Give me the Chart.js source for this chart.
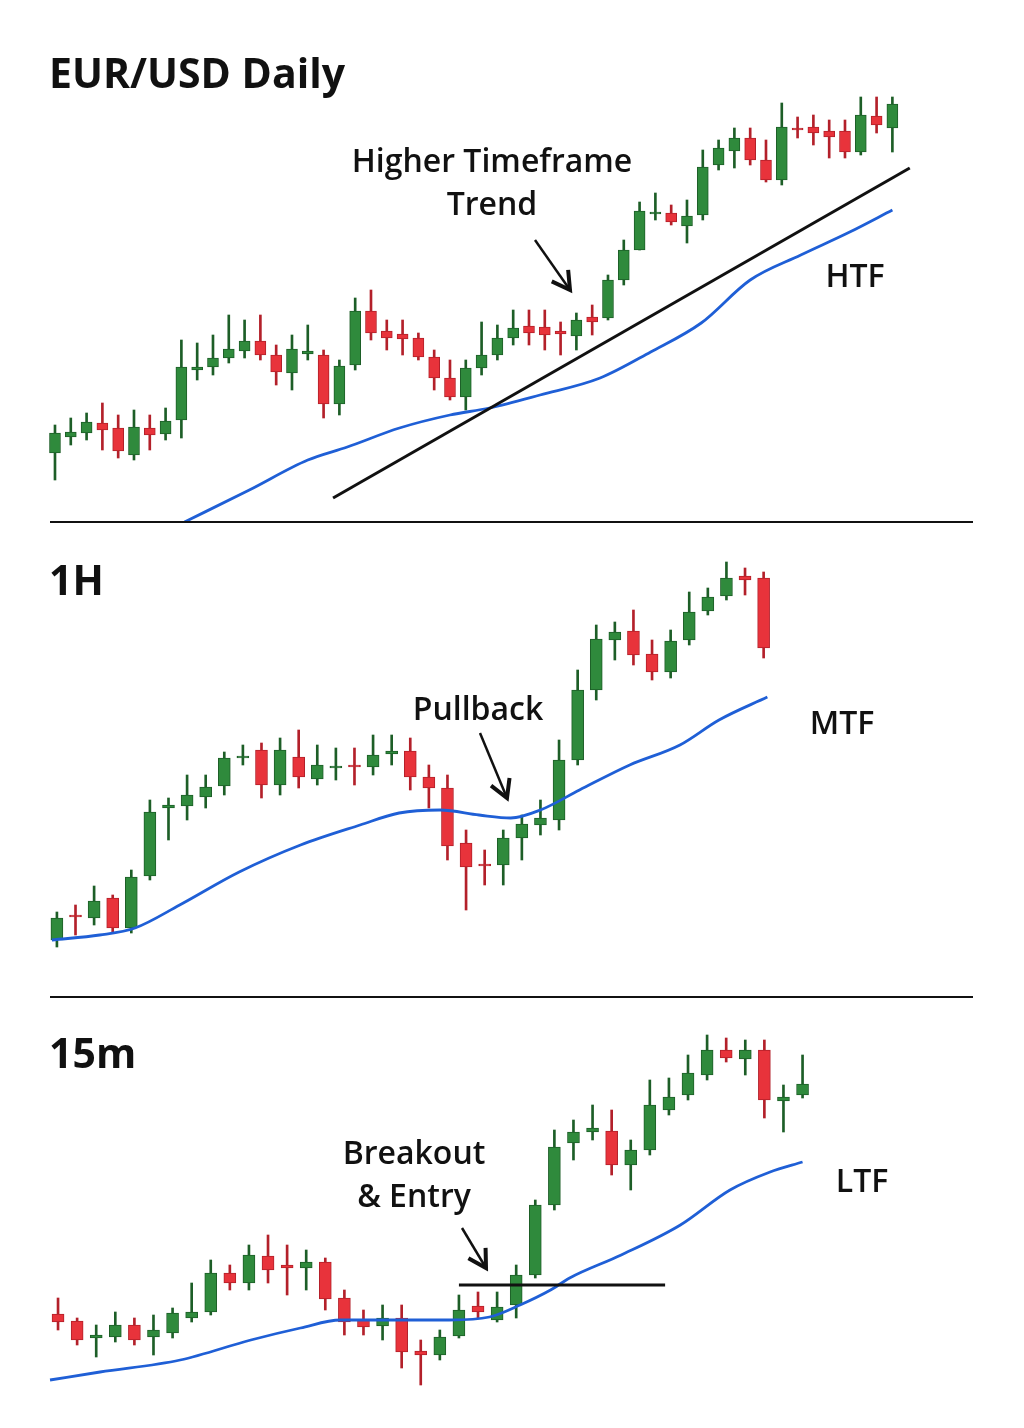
<!DOCTYPE html>
<html><head><meta charset="utf-8">
<script src="https://cdn.jsdelivr.net/npm/chart.js@4"></script>
<style>
body{margin:0;background:#fff;width:1024px;height:1428px;position:relative;overflow:hidden;font-family:"Open Sans",Roboto,sans-serif;}
canvas{position:absolute;left:0;}
.t{position:absolute;font-weight:700;color:#111;white-space:nowrap;}
.h{font-size:41px;left:49px;}
.a{font-size:32px;font-weight:600;transform:translateX(-50%);text-align:center;line-height:43px;}
.sep{position:absolute;left:50px;width:923px;height:2px;background:#111;}
svg{position:absolute;left:0;top:0;}
</style></head><body>
<canvas id="c1" width="1024" height="432" style="top:90px"></canvas>
<canvas id="c2" width="1024" height="420" style="top:540px"></canvas>
<canvas id="c3" width="1024" height="380" style="top:1020px"></canvas>
<div class="sep" style="top:521px"></div>
<div class="sep" style="top:996px"></div>
<div class="t h" style="top:44px">EUR/USD Daily</div>
<div class="t h" style="top:551px">1H</div>
<div class="t h" style="top:1024px">15m</div>
<div class="t a" style="left:492px;top:138px">Higher Timeframe<br>Trend</div>
<div class="t a" style="left:855px;top:253px">HTF</div>
<div class="t a" style="left:478px;top:686px">Pullback</div>
<div class="t a" style="left:842px;top:700px">MTF</div>
<div class="t a" style="left:414px;top:1130px">Breakout<br>&amp; Entry</div>
<div class="t a" style="left:862px;top:1158px">LTF</div>
<svg width="1024" height="1428">
<defs><marker id="ah" markerWidth="10" markerHeight="10" refX="8" refY="5" orient="auto"><path d="M1,1 L8,5 L1,9" fill="none" stroke="#111" stroke-width="1.6"/></marker></defs>
<line x1="535" y1="240" x2="570" y2="290" stroke="#111" stroke-width="2.5" marker-end="url(#ah)"/>
<line x1="480" y1="733" x2="507" y2="798" stroke="#111" stroke-width="2.5" marker-end="url(#ah)"/>
<line x1="462" y1="1228" x2="486" y2="1268" stroke="#111" stroke-width="2.5" marker-end="url(#ah)"/>
</svg>
<script>
// Candles: [open, close, high, low] in the chart's (top-down) price scale
const dailyCandles = [
[453,433,425,480],[437,432,418,445],[433,422,413,440],[423,430,403,450],[428,451,415,458],[455,427,410,460],[428,435,415,450],[434,421,408,440],
[420,367,340,438],[370,367,343,380],[367,358,335,375],[358,349,315,363],[351,341,320,358],[341,355,315,360],[355,372,345,385],[373,349,335,390],
[354,351,325,360],[355,404,350,418],[404,366,360,415],[365,311,298,370],[311,333,290,340],[331,338,320,350],[334,339,320,355],[338,357,333,360],
[357,378,350,390],[378,397,360,400],[397,368,360,410],[368,355,322,375],[355,338,325,360],[338,328,310,345],[326,333,310,345],[327,335,310,350],
[331,334,322,355],[336,320,313,350],[317,322,305,335],[318,280,275,320],[280,250,240,285],[250,211,202,250],[214,212,193,220],[213,222,205,225],
[226,216,200,243],[215,167,150,220],[165,148,140,170],[151,138,128,168],[138,160,128,165],[160,180,140,182],[180,127,103,185],[128,130,117,138],
[127,133,115,145],[131,137,120,158],[131,152,120,158],[152,115,97,155],[116,125,97,133],[128,104,97,152]];
const dailyMA = [[8.2,522],[12.3,490],[16,460],[18.5,447],[21.8,428],[25,415],[27.5,408],[30.7,395],[34.5,378],[37.7,352],[40.9,323],[44,280],[47.2,255],[50.3,232],[53,210]];
const dailyTrend = [[17.6,498],[54.1,168]];

const h1Candles = [
[940,918,912,947],[915,917,905,935],[918,901,886,925],[898,928,895,932],[928,877,870,933],[876,812,800,880],[808,805,798,840],[806,795,775,820],
[797,787,775,808],[786,758,752,795],[758,756,745,765],[750,785,743,798],[785,750,738,795],[757,777,730,788],[779,765,745,785],[768,766,748,780],
[765,767,748,785],[767,755,735,775],[754,751,735,765],[751,777,738,790],[777,788,765,808],[788,846,775,860],[843,867,830,910],[864,866,850,885],
[865,838,830,885],[838,824,815,860],[825,818,800,835],[820,760,740,830],[760,690,670,765],[690,639,625,700],[640,632,622,660],[631,655,610,665],
[654,672,640,680],[672,641,630,678],[640,612,592,645],[611,597,588,615],[596,578,562,600],[576,580,568,595],[578,648,572,658]];
const h1MA = [[-0.27,940],[2.3,935],[4.2,928],[6.6,905],[9.8,872],[13.1,845],[16.3,825],[18.4,813],[20.6,810],[22.7,815],[24.4,818],[26,810],[28.1,790],[30.8,765],[33.5,745],[35.6,720],[38.2,697]];

const m15Candles = [
[1314,1322,1298,1330],[1321,1340,1318,1345],[1338,1335,1325,1357],[1337,1325,1312,1342],[1325,1340,1318,1345],[1337,1330,1315,1355],[1333,1313,1308,1338],[1318,1312,1283,1322],
[1312,1273,1260,1315],[1273,1283,1265,1290],[1283,1255,1245,1290],[1256,1270,1235,1283],[1265,1268,1245,1295],[1268,1262,1250,1290],[1262,1299,1258,1310],[1298,1322,1290,1335],
[1320,1327,1310,1335],[1326,1318,1305,1340],[1318,1352,1305,1368],[1351,1355,1340,1385],[1355,1337,1330,1360],[1336,1310,1295,1338],[1306,1312,1292,1318],[1320,1307,1292,1322],
[1305,1275,1265,1318],[1275,1205,1200,1278],[1205,1147,1130,1210],[1143,1132,1120,1160],[1132,1128,1105,1140],[1131,1165,1110,1175],[1165,1150,1140,1190],[1150,1105,1080,1155],
[1110,1097,1078,1115],[1095,1073,1055,1100],[1075,1050,1035,1080],[1050,1058,1038,1062],[1059,1050,1040,1075],[1050,1100,1040,1118],[1101,1097,1085,1132],[1095,1084,1055,1098]];
const m15MA = [[-0.42,1380],[2.2,1372],[6.4,1360],[10.1,1340],[12.7,1328],[14.8,1320],[17.9,1320],[20.5,1320],[22.6,1317],[24.2,1305],[25.8,1290],[26.8,1278],[29.5,1255],[32.6,1225],[35.2,1190],[37.3,1172],[39,1162]];
const m15Level = [[21.0,1285],[31.8,1285]];

const GREEN='#2f8a3c', GREEN_B='#1d5e27', RED='#e8333b', RED_B='#b3202a', BLUE='#1f5fd6';

function build(id, candles, ma, extra, xmin, xmax, ymin, ymax, bw){
  const up = c => c[1] < c[0];
  const wick = candles.map((c,i)=>({x:i,y:[c[2],c[3]]}));
  const body = candles.map((c,i)=>({x:i,y:[Math.min(c[0],c[1]),Math.max(c[0],c[1])+ (Math.abs(c[0]-c[1])<2?2:0)]}));
  const ds = [
    {type:'bar',data:wick,grouped:false,barThickness:2,backgroundColor:candles.map(c=>up(c)?GREEN_B:RED_B),order:3},
    {type:'bar',data:body,grouped:false,barThickness:bw,backgroundColor:candles.map(c=>up(c)?GREEN:RED),borderColor:candles.map(c=>up(c)?GREEN_B:RED_B),borderWidth:1,borderSkipped:false,order:2},
    {type:'line',data:ma.map(p=>({x:p[0],y:p[1]})),borderColor:BLUE,borderWidth:2.8,pointRadius:0,tension:0.4,cubicInterpolationMode:'monotone',order:1}
  ];
  if(extra) ds.push({type:'line',data:extra.map(p=>({x:p[0],y:p[1]})),borderColor:'#111',borderWidth:3,pointRadius:0,order:0});
  new Chart(document.getElementById(id),{data:{datasets:ds},options:{
    responsive:false,animation:false,layout:{padding:0},
    plugins:{legend:{display:false},tooltip:{enabled:false}},
    scales:{x:{type:'linear',min:xmin,max:xmax,display:false,offset:false},
            y:{min:ymin,max:ymax,reverse:true,display:false}}}});
}
build('c1',dailyCandles,dailyMA,dailyTrend,-3.48,61.33,90,522,11);
build('c2',h1Candles,h1MA,null,-3.06,52.0,540,960,12);
build('c3',m15Candles,m15MA,m15Level,-3.04,50.6,1020,1400,12);
</script>
</body></html>
